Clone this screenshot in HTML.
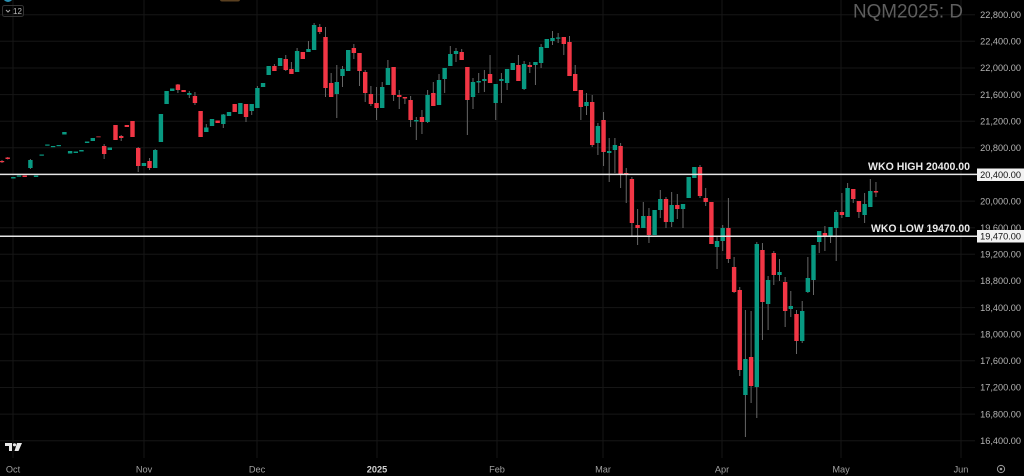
<!DOCTYPE html>
<html><head><meta charset="utf-8"><style>
html,body{margin:0;padding:0;background:#000;width:1024px;height:476px;overflow:hidden}
svg{display:block}
text{font-family:"Liberation Sans",sans-serif}
</style></head><body>
<svg width="1024" height="476" viewBox="0 0 1024 476" xmlns="http://www.w3.org/2000/svg">
<rect width="1024" height="476" fill="#000"/>
<g stroke="#161616" stroke-width="1">
<line x1="0" x2="975" y1="14.7" y2="14.7"/><line x1="0" x2="975" y1="41.3" y2="41.3"/><line x1="0" x2="975" y1="67.95" y2="67.95"/><line x1="0" x2="975" y1="94.6" y2="94.6"/><line x1="0" x2="975" y1="121.2" y2="121.2"/><line x1="0" x2="975" y1="147.8" y2="147.8"/><line x1="0" x2="975" y1="201.1" y2="201.1"/><line x1="0" x2="975" y1="227.7" y2="227.7"/><line x1="0" x2="975" y1="254.3" y2="254.3"/><line x1="0" x2="975" y1="280.95" y2="280.95"/><line x1="0" x2="975" y1="307.6" y2="307.6"/><line x1="0" x2="975" y1="334.2" y2="334.2"/><line x1="0" x2="975" y1="360.8" y2="360.8"/><line x1="0" x2="975" y1="387.45" y2="387.45"/><line x1="0" x2="975" y1="414.1" y2="414.1"/><line x1="0" x2="975" y1="440.7" y2="440.7"/>
<line x1="13" x2="13" y1="0" y2="458"/><line x1="144" x2="144" y1="0" y2="458"/><line x1="257" x2="257" y1="0" y2="458"/><line x1="377" x2="377" y1="0" y2="458"/><line x1="497" x2="497" y1="0" y2="458"/><line x1="603" x2="603" y1="0" y2="458"/><line x1="722" x2="722" y1="0" y2="458"/><line x1="841" x2="841" y1="0" y2="458"/><line x1="961" x2="961" y1="0" y2="458"/>
</g>
<!-- header remnants -->
<circle cx="8" cy="-3" r="5" fill="#2a8fb0"/>
<rect x="220" y="-3" width="20" height="4.5" rx="2" fill="#5a4020"/>
<rect x="2.5" y="5.5" width="21" height="11" rx="2" fill="none" stroke="#333" stroke-width="1"/>
<path d="M6 10 L8 12 L10 10" fill="none" stroke="#aaa" stroke-width="1"/>
<text x="13" y="14" font-size="8" fill="#bbb">12</text>
<!-- wicks -->
<g stroke="#676767" stroke-width="1">
<line x1="2" x2="2" y1="160" y2="163"/><line x1="7.7" x2="7.7" y1="157" y2="159.5"/><line x1="30.4" x2="30.4" y1="159" y2="169"/><line x1="104.15" x2="104.15" y1="144" y2="159"/><line x1="121.2" x2="121.2" y1="135" y2="141"/><line x1="138.2" x2="138.2" y1="147" y2="172"/><line x1="149.55" x2="149.55" y1="158" y2="170"/><line x1="155.2" x2="155.2" y1="149" y2="168"/><line x1="177.9" x2="177.9" y1="84" y2="93"/><line x1="189.3" x2="189.3" y1="91" y2="98"/><line x1="194.95" x2="194.95" y1="92" y2="105"/><line x1="206.3" x2="206.3" y1="124" y2="132"/><line x1="223.3" x2="223.3" y1="114" y2="128"/><line x1="246" x2="246" y1="104" y2="122"/><line x1="251.7" x2="251.7" y1="104" y2="115"/><line x1="257.4" x2="257.4" y1="86" y2="108"/><line x1="274.4" x2="274.4" y1="64" y2="71"/><line x1="285.75" x2="285.75" y1="55" y2="71"/><line x1="291.4" x2="291.4" y1="62" y2="74"/><line x1="297.1" x2="297.1" y1="48" y2="72"/><line x1="308.45" x2="308.45" y1="41" y2="52"/><line x1="314.1" x2="314.1" y1="23" y2="50"/><line x1="319.8" x2="319.8" y1="24" y2="34"/><line x1="325.5" x2="325.5" y1="27" y2="97"/><line x1="331.15" x2="331.15" y1="73" y2="97"/><line x1="336.8" x2="336.8" y1="65" y2="118"/><line x1="342.5" x2="342.5" y1="66" y2="87"/><line x1="353.85" x2="353.85" y1="44" y2="59"/><line x1="359.5" x2="359.5" y1="53" y2="86"/><line x1="365.2" x2="365.2" y1="70" y2="102"/><line x1="370.9" x2="370.9" y1="86" y2="106"/><line x1="376.55" x2="376.55" y1="87" y2="120"/><line x1="382.2" x2="382.2" y1="82" y2="108"/><line x1="387.9" x2="387.9" y1="60" y2="85"/><line x1="393.6" x2="393.6" y1="67" y2="101"/><line x1="399.25" x2="399.25" y1="90" y2="109"/><line x1="404.9" x2="404.9" y1="97" y2="104"/><line x1="410.6" x2="410.6" y1="96" y2="127"/><line x1="416.3" x2="416.3" y1="117" y2="140"/><line x1="421.95" x2="421.95" y1="110" y2="134"/><line x1="427.6" x2="427.6" y1="90" y2="123"/><line x1="433.3" x2="433.3" y1="82" y2="106"/><line x1="439" x2="439" y1="74" y2="105"/><line x1="444.65" x2="444.65" y1="68" y2="93"/><line x1="450.3" x2="450.3" y1="46" y2="66"/><line x1="456" x2="456" y1="48" y2="62"/><line x1="461.7" x2="461.7" y1="49" y2="60"/><line x1="467.35" x2="467.35" y1="67" y2="135"/><line x1="473" x2="473" y1="78" y2="109"/><line x1="478.7" x2="478.7" y1="73" y2="93"/><line x1="484.4" x2="484.4" y1="70" y2="92"/><line x1="490.05" x2="490.05" y1="55" y2="83"/><line x1="495.7" x2="495.7" y1="84" y2="120"/><line x1="501.4" x2="501.4" y1="73" y2="103"/><line x1="507.1" x2="507.1" y1="69" y2="90"/><line x1="518.4" x2="518.4" y1="55" y2="81"/><line x1="524.1" x2="524.1" y1="61" y2="90"/><line x1="529.8" x2="529.8" y1="62" y2="73"/><line x1="535.45" x2="535.45" y1="62" y2="85"/><line x1="541.1" x2="541.1" y1="44" y2="68"/><line x1="552.5" x2="552.5" y1="31" y2="45"/><line x1="558.15" x2="558.15" y1="33" y2="43"/><line x1="563.8" x2="563.8" y1="37" y2="55"/><line x1="569.5" x2="569.5" y1="36" y2="76"/><line x1="575.2" x2="575.2" y1="65" y2="91"/><line x1="580.85" x2="580.85" y1="90" y2="120"/><line x1="586.5" x2="586.5" y1="93" y2="115"/><line x1="592.2" x2="592.2" y1="95" y2="147"/><line x1="597.9" x2="597.9" y1="123" y2="155"/><line x1="603.55" x2="603.55" y1="112" y2="166"/><line x1="609.2" x2="609.2" y1="138" y2="182"/><line x1="614.9" x2="614.9" y1="138" y2="173"/><line x1="620.6" x2="620.6" y1="143" y2="188"/><line x1="626.25" x2="626.25" y1="168" y2="203"/><line x1="631.9" x2="631.9" y1="177" y2="237"/><line x1="637.6" x2="637.6" y1="209" y2="245"/><line x1="643.3" x2="643.3" y1="202" y2="228"/><line x1="648.95" x2="648.95" y1="208" y2="243"/><line x1="660.3" x2="660.3" y1="190" y2="218"/><line x1="666" x2="666" y1="197" y2="228"/><line x1="671.65" x2="671.65" y1="192" y2="227"/><line x1="677.3" x2="677.3" y1="194" y2="219"/><line x1="683" x2="683" y1="204" y2="228"/><line x1="700" x2="700" y1="165" y2="198"/><line x1="705.7" x2="705.7" y1="188" y2="206"/><line x1="717.05" x2="717.05" y1="236" y2="269"/><line x1="722.7" x2="722.7" y1="225" y2="251"/><line x1="728.4" x2="728.4" y1="198" y2="263"/><line x1="734.1" x2="734.1" y1="257" y2="293"/><line x1="739.75" x2="739.75" y1="287" y2="376"/><line x1="745.4" x2="745.4" y1="310" y2="437"/><line x1="751.1" x2="751.1" y1="311" y2="403"/><line x1="756.8" x2="756.8" y1="242" y2="418"/><line x1="762.45" x2="762.45" y1="243" y2="340"/><line x1="768.1" x2="768.1" y1="276" y2="330"/><line x1="773.8" x2="773.8" y1="251" y2="285"/><line x1="779.5" x2="779.5" y1="259" y2="281"/><line x1="785.15" x2="785.15" y1="277" y2="327"/><line x1="790.8" x2="790.8" y1="291" y2="317"/><line x1="796.5" x2="796.5" y1="310" y2="354"/><line x1="802.2" x2="802.2" y1="301" y2="343"/><line x1="807.85" x2="807.85" y1="257" y2="293"/><line x1="813.5" x2="813.5" y1="245" y2="295"/><line x1="819.2" x2="819.2" y1="231" y2="253"/><line x1="824.9" x2="824.9" y1="226" y2="251"/><line x1="830.55" x2="830.55" y1="227" y2="243"/><line x1="836.2" x2="836.2" y1="210" y2="261"/><line x1="841.9" x2="841.9" y1="193" y2="218"/><line x1="847.6" x2="847.6" y1="183" y2="217"/><line x1="853.25" x2="853.25" y1="189" y2="203"/><line x1="858.9" x2="858.9" y1="201" y2="218"/><line x1="864.6" x2="864.6" y1="193" y2="223"/><line x1="870.3" x2="870.3" y1="179" y2="207"/><line x1="875.95" x2="875.95" y1="182" y2="197"/>
</g>
<!-- teal bodies -->
<g fill="#089981">
<rect x="11.15" y="177" width="4.4" height="1.5"/><rect x="16.8" y="175.5" width="4.4" height="1.2"/><rect x="28.2" y="160" width="4.4" height="8"/><rect x="33.85" y="175.5" width="4.4" height="1.5"/><rect x="39.5" y="154.5" width="4.4" height="1.2"/><rect x="45.2" y="144.5" width="4.4" height="1.2"/><rect x="50.9" y="146" width="4.4" height="1.2"/><rect x="56.55" y="145" width="4.4" height="1.2"/><rect x="62.2" y="132" width="4.4" height="2.5"/><rect x="67.9" y="151" width="4.4" height="2.5"/><rect x="73.6" y="151.5" width="4.4" height="1.5"/><rect x="79.25" y="150" width="4.4" height="1.5"/><rect x="84.9" y="141.5" width="4.4" height="1.5"/><rect x="90.6" y="138" width="4.4" height="3"/><rect x="107.6" y="147.5" width="4.4" height="2.5"/><rect x="141.7" y="163" width="4.4" height="3"/><rect x="153" y="150" width="4.4" height="18"/><rect x="158.7" y="114" width="4.4" height="28"/><rect x="164.4" y="91" width="4.4" height="13"/><rect x="170.05" y="88.5" width="4.4" height="2.5"/><rect x="187.1" y="93" width="4.4" height="2"/><rect x="204.1" y="127.5" width="4.4" height="4.5"/><rect x="209.8" y="119" width="4.4" height="7"/><rect x="221.1" y="114.5" width="4.4" height="9.5"/><rect x="226.8" y="112" width="4.4" height="4"/><rect x="238.15" y="103" width="4.4" height="11"/><rect x="249.5" y="104" width="4.4" height="7"/><rect x="255.2" y="88" width="4.4" height="20"/><rect x="260.85" y="83" width="4.4" height="4"/><rect x="266.5" y="66" width="4.4" height="9"/><rect x="277.9" y="58" width="4.4" height="8"/><rect x="294.9" y="51" width="4.4" height="21"/><rect x="306.25" y="49" width="4.4" height="3"/><rect x="311.9" y="25" width="4.4" height="25"/><rect x="334.6" y="82" width="4.4" height="12"/><rect x="340.3" y="69" width="4.4" height="7"/><rect x="346" y="50" width="4.4" height="21"/><rect x="380" y="87" width="4.4" height="21"/><rect x="385.7" y="68" width="4.4" height="17"/><rect x="414.1" y="120" width="4.4" height="1.5"/><rect x="425.4" y="95" width="4.4" height="27"/><rect x="436.8" y="80" width="4.4" height="25"/><rect x="442.45" y="68" width="4.4" height="11"/><rect x="448.1" y="54" width="4.4" height="12"/><rect x="453.8" y="51" width="4.4" height="3"/><rect x="470.8" y="82" width="4.4" height="15"/><rect x="476.5" y="81" width="4.4" height="1.5"/><rect x="482.2" y="79" width="4.4" height="2"/><rect x="493.5" y="84" width="4.4" height="19"/><rect x="499.2" y="79" width="4.4" height="2"/><rect x="504.9" y="69" width="4.4" height="14"/><rect x="510.55" y="63" width="4.4" height="7"/><rect x="521.9" y="64" width="4.4" height="25"/><rect x="533.25" y="62" width="4.4" height="3"/><rect x="538.9" y="47" width="4.4" height="16"/><rect x="544.6" y="39" width="4.4" height="9"/><rect x="550.3" y="38" width="4.4" height="3"/><rect x="555.95" y="37.5" width="4.4" height="1.2"/><rect x="584.3" y="102" width="4.4" height="4"/><rect x="595.7" y="126" width="4.4" height="17"/><rect x="607" y="151" width="4.4" height="2"/><rect x="612.7" y="145" width="4.4" height="5"/><rect x="641.1" y="216" width="4.4" height="12"/><rect x="652.4" y="210" width="4.4" height="25"/><rect x="658.1" y="199" width="4.4" height="11"/><rect x="669.45" y="205" width="4.4" height="17"/><rect x="680.8" y="204" width="4.4" height="5"/><rect x="686.5" y="177" width="4.4" height="21"/><rect x="692.15" y="167" width="4.4" height="11"/><rect x="714.85" y="241" width="4.4" height="6"/><rect x="720.5" y="228" width="4.4" height="13"/><rect x="743.2" y="359" width="4.4" height="36"/><rect x="754.6" y="244" width="4.4" height="143"/><rect x="765.9" y="280" width="4.4" height="24"/><rect x="777.3" y="272" width="4.4" height="3"/><rect x="788.6" y="306" width="4.4" height="3"/><rect x="800" y="311" width="4.4" height="30"/><rect x="805.65" y="278" width="4.4" height="14"/><rect x="811.3" y="245" width="4.4" height="35"/><rect x="817" y="231" width="4.4" height="11"/><rect x="828.35" y="227" width="4.4" height="10"/><rect x="834" y="212" width="4.4" height="16"/><rect x="845.4" y="188" width="4.4" height="29"/><rect x="862.4" y="204" width="4.4" height="11"/><rect x="868.1" y="191" width="4.4" height="16"/>
</g>
<!-- red bodies -->
<g fill="#f23645">
<rect x="-0.2" y="161" width="4.4" height="1.2"/><rect x="5.5" y="157.5" width="4.4" height="1.5"/><rect x="22.5" y="175.5" width="4.4" height="1.5"/><rect x="101.95" y="146" width="4.4" height="8"/><rect x="113.3" y="125" width="4.4" height="15"/><rect x="119" y="136" width="4.4" height="2"/><rect x="124.65" y="125" width="4.4" height="2"/><rect x="130.3" y="121" width="4.4" height="16"/><rect x="136" y="148" width="4.4" height="18"/><rect x="147.35" y="161" width="4.4" height="7"/><rect x="175.7" y="84.5" width="4.4" height="5.5"/><rect x="181.4" y="90" width="4.4" height="2"/><rect x="192.75" y="96" width="4.4" height="7"/><rect x="198.4" y="111" width="4.4" height="26"/><rect x="215.45" y="120.5" width="4.4" height="2.5"/><rect x="232.5" y="104" width="4.4" height="8"/><rect x="243.8" y="104" width="4.4" height="13"/><rect x="272.2" y="66" width="4.4" height="5"/><rect x="283.55" y="59" width="4.4" height="11"/><rect x="289.2" y="69" width="4.4" height="5"/><rect x="300.6" y="52" width="4.4" height="7"/><rect x="317.6" y="27" width="4.4" height="5"/><rect x="323.3" y="37" width="4.4" height="51"/><rect x="328.95" y="83" width="4.4" height="14"/><rect x="351.65" y="48" width="4.4" height="5"/><rect x="357.3" y="53" width="4.4" height="18"/><rect x="363" y="72" width="4.4" height="21"/><rect x="368.7" y="94" width="4.4" height="10"/><rect x="374.35" y="103" width="4.4" height="5"/><rect x="391.4" y="67" width="4.4" height="28"/><rect x="397.05" y="95" width="4.4" height="2"/><rect x="402.7" y="97" width="4.4" height="1.5"/><rect x="408.4" y="100" width="4.4" height="20"/><rect x="419.75" y="117" width="4.4" height="5"/><rect x="431.1" y="93" width="4.4" height="13"/><rect x="459.5" y="52" width="4.4" height="8"/><rect x="465.15" y="67" width="4.4" height="33"/><rect x="487.85" y="74" width="4.4" height="9"/><rect x="516.2" y="65" width="4.4" height="16"/><rect x="527.6" y="65" width="4.4" height="2"/><rect x="561.6" y="37" width="4.4" height="7"/><rect x="567.3" y="42" width="4.4" height="34"/><rect x="573" y="74" width="4.4" height="17"/><rect x="578.65" y="90" width="4.4" height="17"/><rect x="590" y="102" width="4.4" height="43"/><rect x="601.35" y="120" width="4.4" height="32"/><rect x="618.4" y="146" width="4.4" height="29"/><rect x="624.05" y="173" width="4.4" height="1.5"/><rect x="629.7" y="179" width="4.4" height="44"/><rect x="635.4" y="225" width="4.4" height="3"/><rect x="646.75" y="216" width="4.4" height="19"/><rect x="663.8" y="199" width="4.4" height="23"/><rect x="675.1" y="205" width="4.4" height="4"/><rect x="697.8" y="167" width="4.4" height="29"/><rect x="703.5" y="198" width="4.4" height="4"/><rect x="709.2" y="202" width="4.4" height="42"/><rect x="726.2" y="228" width="4.4" height="31"/><rect x="731.9" y="267" width="4.4" height="25"/><rect x="737.55" y="290" width="4.4" height="80"/><rect x="748.9" y="357" width="4.4" height="29"/><rect x="760.25" y="250" width="4.4" height="52"/><rect x="771.6" y="253" width="4.4" height="22"/><rect x="782.95" y="282" width="4.4" height="29"/><rect x="794.3" y="314" width="4.4" height="27"/><rect x="822.7" y="233" width="4.4" height="4"/><rect x="839.7" y="212" width="4.4" height="3"/><rect x="851.05" y="189" width="4.4" height="10"/><rect x="856.7" y="201" width="4.4" height="11"/><rect x="873.75" y="191" width="4.4" height="1.5"/>
</g>
<rect x="96.3" y="136" width="4.4" height="1.5" fill="#7a1f25"/>
<!-- WKO lines -->
<line x1="0" x2="977" y1="174.4" y2="174.4" stroke="#e6e6e6" stroke-width="1.5"/>
<line x1="0" x2="977" y1="236.2" y2="236.2" stroke="#e6e6e6" stroke-width="1.5"/>
<text x="970" y="170" font-size="11" font-weight="bold" fill="#eaeaea" text-anchor="end" textLength="102" lengthAdjust="spacingAndGlyphs">WKO HIGH 20400.00</text>
<text x="970" y="232" font-size="11" font-weight="bold" fill="#eaeaea" text-anchor="end" textLength="99" lengthAdjust="spacingAndGlyphs">WKO LOW 19470.00</text>
<!-- price axis labels -->
<g font-size="9.2" fill="#b4b4b4" text-anchor="end">
<text x="1021" y="18">22,800.00</text><text x="1021" y="44.6">22,400.00</text><text x="1021" y="71.2">22,000.00</text><text x="1021" y="97.9">21,600.00</text><text x="1021" y="124.5">21,200.00</text><text x="1021" y="151.1">20,800.00</text><text x="1021" y="204.4">20,000.00</text><text x="1021" y="231">19,600.00</text><text x="1021" y="257.6">19,200.00</text><text x="1021" y="284.2">18,800.00</text><text x="1021" y="310.9">18,400.00</text><text x="1021" y="337.5">18,000.00</text><text x="1021" y="364.1">17,600.00</text><text x="1021" y="390.7">17,200.00</text><text x="1021" y="417.4">16,800.00</text><text x="1021" y="444">16,400.00</text>
</g>
<rect x="977" y="168.5" width="47" height="12.5" fill="#f2f2f2"/>
<text x="1021" y="178" font-size="9.2" fill="#111" text-anchor="end">20,400.00</text>
<rect x="977" y="230" width="47" height="12.5" fill="#f2f2f2"/>
<text x="1021" y="239.6" font-size="9.2" fill="#111" text-anchor="end">19,470.00</text>
<!-- title -->
<text x="853" y="17.5" font-size="19.5" fill="#5e5e5e" textLength="110" lengthAdjust="spacingAndGlyphs">NQM2025: D</text>
<!-- date axis -->
<g font-size="9.2" fill="#a0a0a0" text-anchor="middle">
<text x="13" y="472.5">Oct</text><text x="144" y="472.5">Nov</text><text x="257" y="472.5">Dec</text><text x="377" y="472.5" font-weight="bold" fill="#d0d0d0">2025</text><text x="497" y="472.5">Feb</text><text x="603" y="472.5">Mar</text><text x="722" y="472.5">Apr</text><text x="841" y="472.5">May</text><text x="961" y="472.5">Jun</text>
</g>
<circle cx="1001" cy="469" r="3.6" fill="none" stroke="#999" stroke-width="1"/>
<circle cx="1001" cy="469" r="1.3" fill="#999"/>
<!-- TV logo -->
<g fill="#e8e8e8">
<rect x="5" y="443" width="7" height="3"/>
<rect x="9" y="443" width="3" height="8"/>
<circle cx="14.5" cy="444.8" r="1.6"/>
<polygon points="17,443 22,443 18.5,451 14.5,451"/>
</g>
</svg>
</body></html>
